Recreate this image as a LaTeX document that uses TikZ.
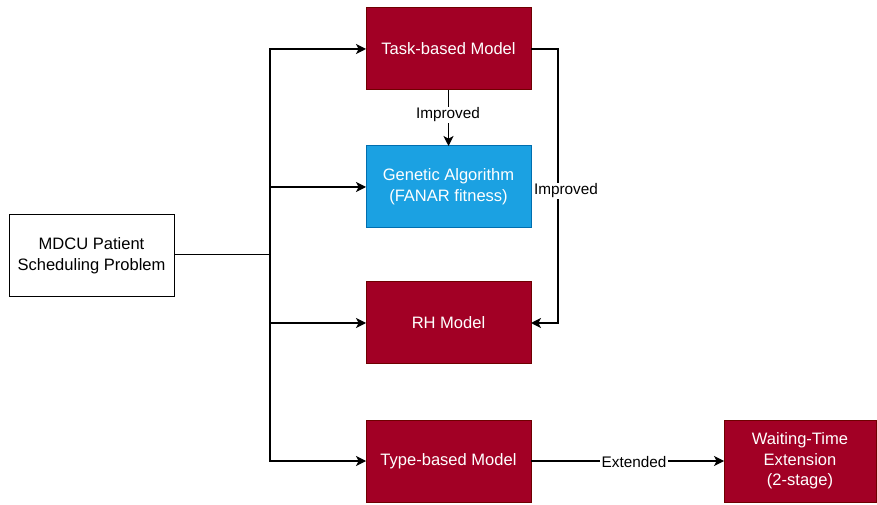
\documentclass[tikz,border=0pt]{standalone}
\usepackage{fontspec}
\setmainfont{Liberation Sans}
\usetikzlibrary{arrows.meta}
\definecolor{redfill}{HTML}{A20025}
\definecolor{redline}{HTML}{6F0000}
\definecolor{bluefill}{HTML}{1BA1E2}
\definecolor{blueline}{HTML}{006EAF}
\tikzset{
  box/.style={draw, line width=0.75pt, minimum width=123.75pt, minimum height=61.5pt, inner sep=0pt, outer sep=0pt, align=center, font=\fontsize{12.4}{15.5}\selectfont},
  redbox/.style={box, fill=redfill, draw=redline, text=white},
  bluebox/.style={box, fill=bluefill, draw=blueline, text=white},
  whitebox/.style={box, fill=white, draw=black},
  conn/.style={line width=1pt, draw=black},
  arr/.style={conn, -{Stealth[length=7.5pt, width=7.5pt, inset=2pt]}},
  lab/.style={fill=white, inner sep=1pt, font=\fontsize{11.5}{13}\selectfont}
}
\begin{document}
\begin{tikzpicture}[x=0.75pt, y=-0.75pt]
\useasboundingbox (0,0) rectangle (877,505);
\node[whitebox] (m) at (91.5,255.5) {MDCU Patient\\Scheduling Problem};
\node[redbox] (task) at (448.5,49) {Task-based Model};
\node[bluebox] (ga) at (448.5,187) {Genetic Algorithm\\(FANAR fitness)};
\node[redbox] (rh) at (448.5,323) {RH Model};
\node[redbox] (type) at (448.5,461) {Type-based Model};
\node[redbox, minimum width=114pt] (wait) at (800,461) {Waiting-Time\\Extension\\(2-stage)};
\coordinate (j) at (270,254.5);
\coordinate (r) at (558,49);
\draw[conn, line width=1.3pt] (m.east |- j) -- (j);
\draw[arr] (j) |- (task.west);
\draw[arr] (j) |- (ga.west);
\draw[arr] (j) |- (rh.west);
\draw[arr] (j) |- (type.west);
\draw[arr] (task.south) -- (ga.north);
\node[lab] (l1) at (448,115) {Improved};
\draw[arr] (task.east) -- (r) |- (rh.east);
\node[lab] (l2) at (566,191) {Improved};
\draw[arr] (type.east) -- (wait.west);
\node[lab] (l3) at (634,462) {Extended};
\end{tikzpicture}
\end{document}
